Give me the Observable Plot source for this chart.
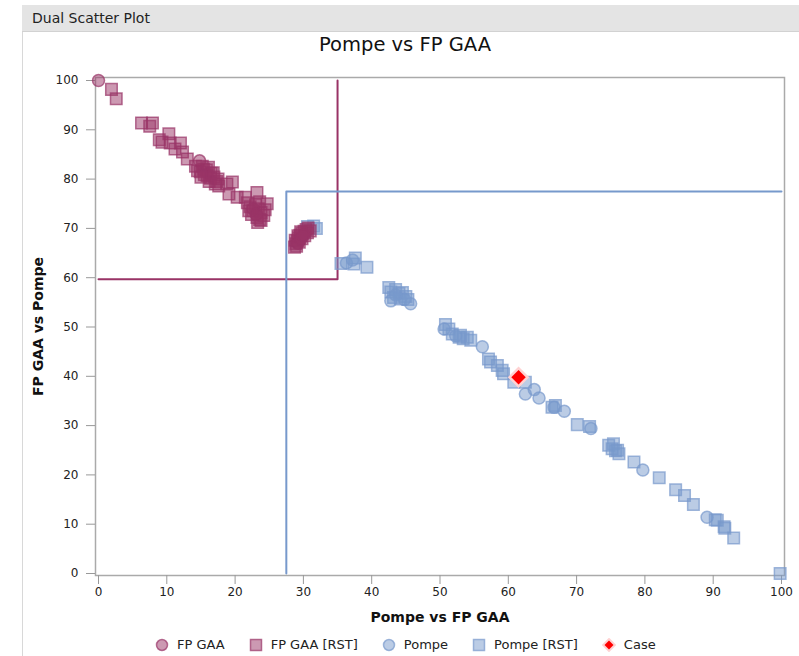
<!DOCTYPE html>
<html><head><meta charset="utf-8">
<script src="https://cdn.jsdelivr.net/npm/d3@7"></script>
<script src="https://cdn.jsdelivr.net/npm/@observablehq/plot@0.6"></script>
<style>
body{margin:0;background:#fff;font-family:"DejaVu Sans",Verdana,sans-serif;width:799px;height:656px;overflow:hidden;}
#panel{position:absolute;left:22px;top:5px;width:777px;height:651px;border-left:1px solid #d8d8d8;}
#header{position:absolute;left:22px;top:5px;width:777px;height:27px;background:#e4e4e4;border-bottom:1px solid #d2d2d2;font-size:14px;color:#222;line-height:27px;padding-left:10px;box-sizing:border-box;}
#chart{position:absolute;left:0;top:32px;}
#title{position:absolute;left:0;top:33px;width:810px;text-align:center;font-size:19.5px;line-height:24px;color:#111;}
#legend{position:absolute;top:637px;left:155px;display:flex;align-items:center;font-size:13px;line-height:16px;color:#222;white-space:nowrap;}
#legend .item{display:flex;align-items:center;margin-right:24px;}
#legend svg{margin-right:8px;display:block;}
</style>
</head><body>
<div id="panel"></div>
<div id="header">Dual Scatter Plot</div>
<div id="chart"></div>
<div id="title">Pompe vs FP GAA</div>
<div id="legend"></div>
<script>
const chartTitle = "Pompe vs FP GAA";
const xLabel = "Pompe vs FP GAA";
const yLabel = "FP GAA vs Pompe";
const xTicks = [0,10,20,30,40,50,60,70,80,90,100];
const yTicks = [0,10,20,30,40,50,60,70,80,90,100];
const seriesNames = ["FP GAA","FP GAA [RST]","Pompe","Pompe [RST]","Case"];

// FP GAA (circles)
const fpGaa = [[0,100],[14.8,83.7],[22.6,74.0],[23.1,72.8],[29.2,67.0],[29.6,67.8],[30.0,68.6]];
// FP GAA [RST] (squares)
const fpGaaRst = [
 [1.9,98.2],[2.6,96.3],
 [6.3,91.4],[7.9,91.4],[7.5,90.7],[8.9,88.0],[10.3,89.2],[9.3,87.5],[10.5,87.3],[11.2,86.1],[12.0,87.3],[12.3,85.5],[13.0,84.1],
 [14.2,82.6],[14.5,81.7],[14.9,81.5],[15.2,82.6],[15.4,82.0],[15.8,81.9],[16.1,82.4],[15.5,80.9],[15.9,80.7],[16.5,81.2],[16.8,81.3],[16.4,80.2],[16.9,80.4],[16.2,79.5],[15.0,80.4],[17.3,79.5],[17.5,80.0],[17.1,79.0],[17.6,78.6],
 [18.8,79.0],[19.6,79.4],[19.1,77.0],[20.3,76.3],[21.5,76.3],[23.2,77.3],[24.7,75.0],
 [21.8,75.2],[22.2,74.4],[22.6,73.6],[23.0,74.8],[23.4,74.0],[23.8,73.2],[22.4,72.8],[23.2,72.2],[23.8,71.6],[24.2,72.6],[24.4,73.8],[22.0,73.6],[23.6,75.4],[23.3,71.2],[23.6,71.8],
 [28.7,66.2],[28.9,66.9],[29.1,67.5],[29.3,68.1],[29.5,68.6],[29.8,69.0],[30.1,69.4],[30.4,69.8],[30.7,70.1],[29.0,66.4],[29.4,67.2],[29.8,67.9],[30.2,68.5],[30.6,69.1],[31.0,69.5],[28.8,67.6],[29.2,68.5],[29.6,69.3]
];
// Pompe (circles)
const pompe = [[36.3,63.0],[37.2,63.6],[42.8,55.3],[45.7,54.7],[44.8,55.6],[43.5,56.5],[50.6,49.6],[52.3,48.2],[56.2,46.0],
 [62.5,36.4],[63.8,37.3],[64.5,35.6],[66.7,33.7],[68.2,32.9],[72.1,29.4],[79.7,21.0],[89.1,11.4]];
// Pompe [RST] (squares)
const pompeRst = [[30.6,70.4],[31.5,70.5],[31.9,70.0],
 [35.5,62.9],[37.4,62.8],[37.6,64.0],[39.3,62.1],
 [42.5,58.0],[42.8,57.1],[43.5,57.6],[44.0,56.8],[44.5,57.0],[45.0,56.2],[43.2,56.0],[44.2,55.7],[45.3,55.6],
 [50.8,50.5],[51.3,49.6],[51.8,48.6],[52.8,47.9],[53.4,47.6],[54.0,47.9],[54.5,47.3],[53.0,48.3],
 [57.4,42.9],[57.1,43.5],[58.4,42.2],[59.1,41.2],[59.3,40.5],[60.8,38.8],[62.5,38.8],
 [66.4,33.7],[66.9,34.1],[70.1,30.2],[71.9,29.8],
 [74.7,26.0],[75.4,26.3],[75.7,24.9],[76.2,24.3],[75.2,25.3],[76.0,25.0],
 [78.4,22.6],[82.1,19.4],[84.5,17.0],[85.8,15.8],[87.1,14.0],
 [90.3,10.9],[90.6,10.8],[91.6,9.5],[91.7,9.2],[93.0,7.2],[99.8,0]];
// Case
const casePoint = [[61.5,39.8]];
// Threshold boxes
const fpGaaBox = [[0,59.7],[35,59.7],[35,100]];
const pompeBox = [[27.5,0],[27.5,77.5],[100,77.5]];

const magenta = "#993366", blue = "#7799cc";
const X = d => d[0], Y = d => d[1];

const chart = Plot.plot({
  width: 799, height: 600,
  marginLeft: 95, marginRight: 15, marginTop: 45, marginBottom: 57,
  x: {domain: [0,100], insetLeft: 3, insetRight: 3},
  y: {domain: [0,100], insetTop: 3, insetBottom: 2},
  style: {fontFamily: "DejaVu Sans, Verdana, sans-serif", fontSize: "12px", background: "transparent", overflow: "visible"},
  marks: [
    Plot.frame({stroke: "#aaa", strokeWidth: 1.5}),
    Plot.axisX({ticks: xTicks, tickSize: 9, tickPadding: 3, stroke: "#999", fill: "#222", label: null}),
    Plot.axisY({ticks: yTicks, tickSize: 9, tickPadding: 8, stroke: "#999", fill: "#222", label: null}),
    Plot.line(fpGaaBox, {x: X, y: Y, stroke: magenta, strokeWidth: 2}),
    Plot.line(pompeBox, {x: X, y: Y, stroke: blue, strokeWidth: 2}),
    Plot.dot(pompeRst, {x: X, y: Y, symbol: "square", r: 6.5, fill: blue, fillOpacity: 0.5, stroke: blue, strokeOpacity: 0.7, strokeWidth: 1.5}),
    Plot.dot(pompe, {x: X, y: Y, symbol: "circle", r: 6, fill: blue, fillOpacity: 0.5, stroke: blue, strokeOpacity: 0.7, strokeWidth: 1.5}),
    Plot.dot(fpGaaRst, {x: X, y: Y, symbol: "square", r: 6.5, fill: magenta, fillOpacity: 0.5, stroke: magenta, strokeOpacity: 0.7, strokeWidth: 1.5}),
    Plot.dot(fpGaa, {x: X, y: Y, symbol: "circle", r: 6, fill: magenta, fillOpacity: 0.5, stroke: magenta, strokeOpacity: 0.7, strokeWidth: 1.5}),
    Plot.dot(casePoint, {x: X, y: Y, symbol: "diamond2", r: 6.5, fill: "#ff0000", stroke: "#ffd2d2", strokeWidth: 5, paintOrder: "stroke"}),
    Plot.text([xLabel], {frameAnchor: "bottom", dy: 42, textAnchor: "middle", lineAnchor: "middle", fontWeight: "bold", fontSize: 14, fill: "#111"}),
    Plot.text([yLabel], {frameAnchor: "left", dx: -57, rotate: -90, textAnchor: "middle", lineAnchor: "middle", fontWeight: "bold", fontSize: 14, fill: "#111"})
  ]
});
document.getElementById("chart").appendChild(chart);
document.getElementById("title").textContent = chartTitle;

// Legend
const legendSymbols = [
  {shape: "circle", color: magenta},
  {shape: "square", color: magenta},
  {shape: "circle", color: blue},
  {shape: "square", color: blue},
  {shape: "diamond", color: "#ff0000"}
];
const legend = document.getElementById("legend");
seriesNames.forEach((name, i) => {
  const s = legendSymbols[i];
  const item = document.createElement("div");
  item.className = "item";
  let shape;
  if (s.shape === "circle") shape = `<circle cx="7" cy="7" r="5.5" fill="${s.color}" fill-opacity="0.5" stroke="${s.color}" stroke-opacity="0.7" stroke-width="1.5"/>`;
  else if (s.shape === "square") shape = `<rect x="1.5" y="1.5" width="11" height="11" fill="${s.color}" fill-opacity="0.5" stroke="${s.color}" stroke-opacity="0.7" stroke-width="1.5"/>`;
  else shape = `<path d="M7,2.5L11.5,7L7,11.5L2.5,7Z" fill="#ff0000" stroke="#ffd2d2" stroke-width="4" paint-order="stroke"/>`;
  item.innerHTML = `<svg width="14" height="14">${shape}</svg><span>${name}</span>`;
  legend.appendChild(item);
});
</script>
</body></html>
